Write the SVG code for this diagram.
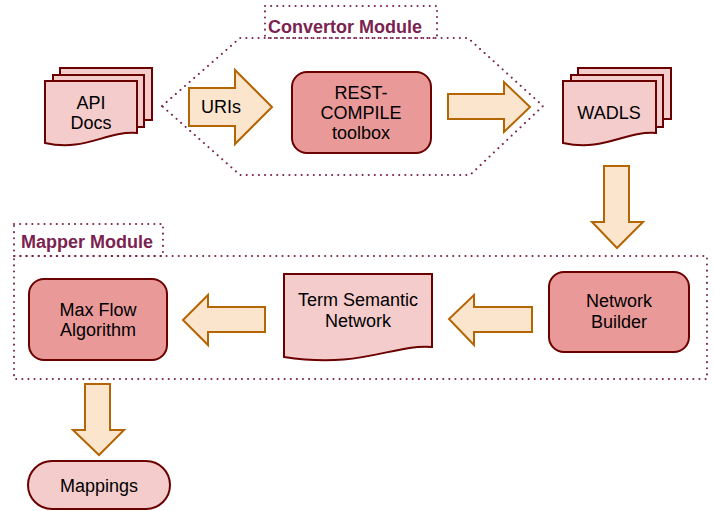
<svg xmlns="http://www.w3.org/2000/svg" width="714" height="511" viewBox="0 0 714 511">
  <style>
    .dot { fill: none; stroke: #7b2350; stroke-width: 2; stroke-dasharray: 0.1 6; stroke-linecap: round; }
    .doc { fill: #f4cccc; stroke: #6b0000; stroke-width: 2; }
    .proc { fill: #ea9999; stroke: #6b0000; stroke-width: 2; }
    .arrow { fill: #fce5cd; stroke: #b46504; stroke-width: 2; stroke-linejoin: miter; }
    .t { font-family: "Liberation Sans", Arial, sans-serif; font-size: 18px; fill: #000; text-anchor: middle; }
    .lbl { font-family: "Liberation Sans", Arial, sans-serif; font-size: 18px; font-weight: bold; fill: #7b2350; }
  </style>
  <rect width="714" height="511" fill="#fff"/>

  <g id="convertor-module">
    <polygon class="dot" points="162,106 240,38 468,38 543,106 470,175 240,175"/>
    <rect class="dot" x="265" y="6" width="172" height="32"/>
    <text class="lbl" x="268" y="33">Convertor Module</text>
  </g>

  <g id="mapper-module">
    <rect class="dot" x="14" y="256" width="693" height="123"/>
    <rect class="dot" x="14" y="224" width="149" height="32"/>
    <text class="lbl" x="21" y="248">Mapper Module</text>
  </g>

  <g id="api-docs">
    <rect class="doc" x="60" y="68" width="92" height="52"/>
    <rect class="doc" x="53" y="75" width="91" height="52"/>
    <path class="doc" d="M45,81 L137,81 L137,133 C105,131 85,152 45,143 Z"/>
    <text class="t" x="91" y="109">API</text>
    <text class="t" x="91" y="129">Docs</text>
  </g>

  <g id="rest-compile">
    <rect class="proc" x="292" y="72" width="139" height="81" rx="15" ry="15"/>
    <text class="t" x="361" y="99">REST-</text>
    <text class="t" x="361" y="119">COMPILE</text>
    <text class="t" x="361" y="139">toolbox</text>
  </g>

  <g id="wadls">
    <rect class="doc" x="578" y="68" width="93" height="51"/>
    <rect class="doc" x="571" y="75" width="92" height="52"/>
    <path class="doc" d="M563,81 L656,81 L656,133 C624,131 604,152 563,143 Z"/>
    <text class="t" x="609" y="119">WADLS</text>
  </g>

  <g id="network-builder">
    <rect class="proc" x="549" y="272" width="140" height="80" rx="15" ry="15"/>
    <text class="t" x="619" y="307">Network</text>
    <text class="t" x="619" y="328">Builder</text>
  </g>

  <g id="term-semantic-network">
    <path class="doc" d="M284,274 L432,274 L432,347 C392,344 362,369 284,357 Z"/>
    <text class="t" x="358" y="306">Term Semantic</text>
    <text class="t" x="358" y="327">Network</text>
  </g>

  <g id="max-flow">
    <rect class="proc" x="29" y="279" width="138" height="81" rx="15" ry="15"/>
    <text class="t" x="98" y="316">Max Flow</text>
    <text class="t" x="98" y="336">Algorithm</text>
  </g>

  <g id="mappings">
    <rect class="doc" x="28" y="461" width="142" height="48" rx="24" ry="24"/>
    <text class="t" x="99" y="492">Mappings</text>
  </g>

  <g id="connectors">
    <g id="uris-arrow">
      <polygon class="arrow" points="189,88 235,88 235,70 272,107 235,144 235,126 189,126"/>
      <text class="t" x="221" y="113">URIs</text>
    </g>
    <polygon class="arrow" points="448,94 504,94 504,82 530,107 504,132 504,119 448,119"/>
    <polygon class="arrow" points="604,166 629,166 629,222 643,222 617,248 592,222 604,222"/>
    <polygon class="arrow" points="532,307 474,307 474,295 449,319 474,345 474,332 532,332"/>
    <polygon class="arrow" points="265,307 208,307 208,295 183,320 208,345 208,332 265,332"/>
    <polygon class="arrow" points="85,384 110,384 110,430 124,430 99,455 73,430 85,430"/>
  </g>
</svg>
